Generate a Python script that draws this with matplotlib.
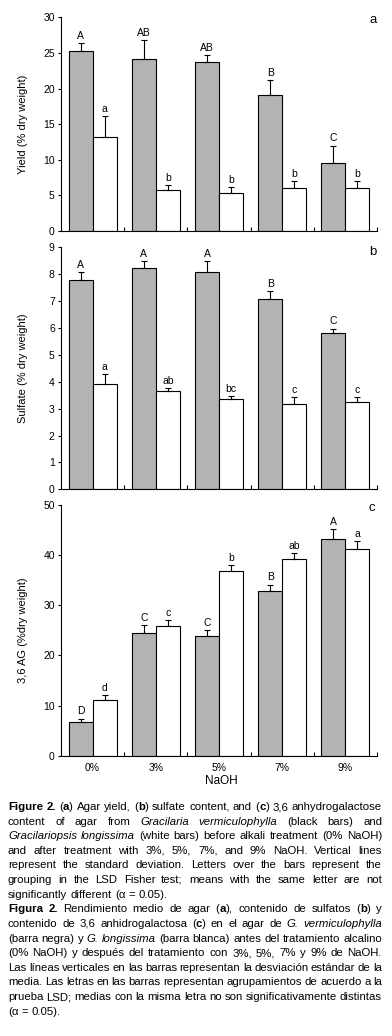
import re
import matplotlib
matplotlib.use('Agg')
import matplotlib.pyplot as plt
from matplotlib.transforms import IdentityTransform
import numpy as np

plt.rcParams['font.family'] = ['Liberation Sans Narrow', 'Liberation Sans', 'DejaVu Sans']

# ---------------- data ----------------
categories = ['0%', '3%', '5%', '7%', '9%']

yield_gv = [25.2, 24.1, 23.7, 19.1, 9.6]
yield_gv_sd = [1.2, 2.7, 1.0, 2.1, 2.4]
yield_gl = [13.2, 5.7, 5.3, 6.0, 6.1]
yield_gl_sd = [2.9, 0.7, 0.85, 1.0, 0.85]
yield_gv_letters = ['A', 'AB', 'AB', 'B', 'C']
yield_gl_letters = ['a', 'b', 'b', 'b', 'b']

sulf_gv = [7.8, 8.22, 8.1, 7.07, 5.8]
sulf_gv_sd = [0.28, 0.26, 0.38, 0.3, 0.18]
sulf_gl = [3.93, 3.65, 3.35, 3.16, 3.24]
sulf_gl_sd = [0.37, 0.11, 0.11, 0.26, 0.18]
sulf_gv_letters = ['A', 'A', 'A', 'B', 'C']
sulf_gl_letters = ['a', 'ab', 'bc', 'c', 'c']

ag_gv = [6.8, 24.4, 23.8, 32.9, 43.2]
ag_gv_sd = [0.6, 1.7, 1.2, 1.2, 1.9]
ag_gl = [11.0, 25.8, 36.8, 39.1, 41.1]
ag_gl_sd = [1.1, 1.2, 1.1, 1.2, 1.7]
ag_gv_letters = ['D', 'C', 'C', 'B', 'A']
ag_gl_letters = ['d', 'c', 'b', 'ab', 'a']

caption_lines = [
    "#Figure 2.# (#a#) Agar yield, (#b#) sulfate content, and (#c#) 3,6 anhydrogalactose",
    "content of agar from *Gracilaria vermiculophylla* (black bars) and",
    "*Gracilariopsis longissima* (white bars) before alkali treatment (0% NaOH)",
    "and after treatment with 3%, 5%, 7%, and 9% NaOH. Vertical lines",
    "represent the standard deviation. Letters over the bars represent the",
    "grouping in the LSD Fisher test; means with the same letter are not",
    "significantly different (\u03b1 = 0.05).",
    "#Figura 2.# Rendimiento medio de agar (#a#), contenido de sulfatos (#b#) y",
    "contenido de 3,6 anhidrogalactosa (#c#) en el agar de *G. vermiculophylla*",
    "(barra negra) y *G. longissima* (barra blanca) antes del tratamiento alcalino",
    "(0% NaOH) y despu\u00e9s del tratamiento con 3%, 5%, 7% y 9% de NaOH.",
    "Las l\u00edneas verticales en las barras representan la desviaci\u00f3n est\u00e1ndar de la",
    "media. Las letras en las barras representan agrupamientos de acuerdo a la",
    "prueba LSD; medias con la misma letra no son significativamente distintas",
    "(\u03b1 = 0.05).",
]
paragraph_last = [6, 14]

W, H = 392, 1036
fig = plt.figure(figsize=(W / 100, H / 100), dpi=100)

GRAY = '#b3b3b3'
BW = 0.38


def axes_px(left, right, top, bottom):
    return fig.add_axes([left / W, 1 - bottom / H, (right - left) / W, (bottom - top) / H])


def panel(ax, gv, gv_sd, gl, gl_sd, gv_let, gl_let, ymax, ystep, ylabel, show_x):
    x = np.arange(len(categories))
    ax.bar(x - BW / 2, gv, BW, color=GRAY, edgecolor='black', linewidth=0.8, zorder=2)
    ax.bar(x + BW / 2, gl, BW, color='white', edgecolor='black', linewidth=0.8, zorder=2)
    ax.errorbar(x - BW / 2, gv, yerr=[np.zeros(len(gv)), gv_sd], fmt='none',
                ecolor='black', elinewidth=0.8, capsize=2.2, capthick=0.8, zorder=3)
    ax.errorbar(x + BW / 2, gl, yerr=[np.zeros(len(gl)), gl_sd], fmt='none',
                ecolor='black', elinewidth=0.8, capsize=2.2, capthick=0.8, zorder=3)
    for xi, v, s, t in zip(x - BW / 2, gv, gv_sd, gv_let):
        ax.annotate(t, (xi, v + s), xytext=(0, 1.5), textcoords='offset points',
                    ha='center', va='bottom', fontsize=7.5)
    for xi, v, s, t in zip(x + BW / 2, gl, gl_sd, gl_let):
        ax.annotate(t, (xi, v + s), xytext=(0, 1.5), textcoords='offset points',
                    ha='center', va='bottom', fontsize=7.5)
    ax.set_xlim(-0.5, len(categories) - 0.5)
    ax.set_ylim(0, ymax)
    ax.set_yticks(np.arange(0, ymax + 0.01, ystep))
    ax.tick_params(axis='y', direction='out', length=2.5, width=0.8, labelsize=7.5, pad=2)
    ax.set_xticks(np.arange(len(categories)) + 0.5)
    ax.set_xticklabels([])
    ax.tick_params(axis='x', which='major', direction='in', length=3, width=0.8)
    if show_x:
        ax.set_xticks(np.arange(len(categories)), minor=True)
        ax.set_xticklabels(categories, minor=True)
        ax.tick_params(axis='x', which='minor', length=0, labelsize=7.5, pad=5)
    for sp in ['top', 'right']:
        ax.spines[sp].set_visible(False)
    for sp in ['left', 'bottom']:
        ax.spines[sp].set_linewidth(0.8)
    ax.set_ylabel(ylabel, fontsize=8)
    ax.yaxis.set_label_coords((28 - 61) / 316, 0.5)


ax_a = axes_px(61, 377, 17.3, 231)
panel(ax_a, yield_gv, yield_gv_sd, yield_gl, yield_gl_sd, yield_gv_letters,
      yield_gl_letters, 30, 5, 'Yield (% dry weight)', False)
ax_b = axes_px(61, 377, 247.4, 489.3)
panel(ax_b, sulf_gv, sulf_gv_sd, sulf_gl, sulf_gl_sd, sulf_gv_letters,
      sulf_gl_letters, 9, 1, 'Sulfate (% dry weight)', False)
ax_c = axes_px(61, 377, 504.7, 755.7)
panel(ax_c, ag_gv, ag_gv_sd, ag_gl, ag_gl_sd, ag_gv_letters,
      ag_gl_letters, 50, 10, '3,6 AG (%dry weight)', True)

idt = IdentityTransform()
for letter, (px, py) in zip(['a', 'b', 'c'], [(373, 20), (373, 252), (372, 508)]):
    fig.text(px, H - py, letter, transform=idt, ha='center', va='center', fontsize=9.5)
fig.text(221, H - 781, 'NaOH', transform=idt, ha='center', va='center', fontsize=8.5)

# ---------------- justified caption ----------------
renderer = fig.canvas.get_renderer()
CAP_SIZE = 8.2
X0, X1 = 8, 382
Y_FIRST, Y_LAST = 807, 1011.7
STYLE = {'n': dict(), 'b': dict(fontweight='bold'), 'i': dict(fontstyle='italic')}


def parse(line):
    runs = []
    for part in re.split(r'(\*[^*]*\*|#[^#]*#)', line):
        if not part:
            continue
        if part.startswith('*'):
            runs.append((part[1:-1], 'i'))
        elif part.startswith('#'):
            runs.append((part[1:-1], 'b'))
        else:
            runs.append((part, 'n'))
    words, cur = [], []
    for text, st in runs:
        pieces = text.split(' ')
        for j, p in enumerate(pieces):
            if j > 0 and cur:
                words.append(cur)
                cur = []
            if p:
                cur.append((p, st))
    if cur:
        words.append(cur)
    return words


def measure(s, st):
    t = fig.text(0, 0, s, transform=idt, fontsize=CAP_SIZE, **STYLE[st])
    w = t.get_window_extent(renderer).width
    t.remove()
    return w


space_w = measure('a a', 'n') - measure('aa', 'n')
n = len(caption_lines)
for i, line in enumerate(caption_lines):
    y = Y_FIRST + (Y_LAST - Y_FIRST) * i / (n - 1)
    words = parse(line)
    widths = [[measure(s, st) for s, st in w] for w in words]
    total = sum(sum(ws) for ws in widths)
    if i in paragraph_last or len(words) < 2:
        gap = space_w
    else:
        gap = (X1 - X0 - total) / (len(words) - 1)
    x = X0
    for w, ws in zip(words, widths):
        for (s, st), sw in zip(w, ws):
            fig.text(x, H - y, s, transform=idt, fontsize=CAP_SIZE, ha='left',
                     va='center', **STYLE[st])
            x += sw
        x += gap

fig.savefig('out.png', dpi=100)
